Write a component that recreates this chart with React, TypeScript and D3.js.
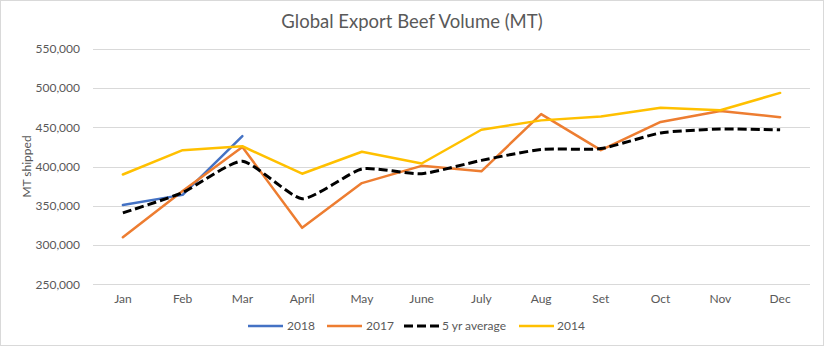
import React from "react";
import * as d3 from "d3";

const months = ["Jan", "Feb", "Mar", "April", "May", "June", "July", "Aug", "Set", "Oct", "Nov", "Dec"];
const yTicks = [250000, 300000, 350000, 400000, 450000, 500000, 550000];
const s2018 = [351000, 364000, 439000];
const s2017 = [310000, 369000, 425000, 322000, 379000, 401000, 394000, 467000, 421000, 457000, 471000, 463000];
const s5yr = [341000, 367000, 407000, 359000, 397000, 391000, 408000, 422000, 423000, 443000, 448000, 447000];
const s2014 = [390000, 421000, 426000, 391000, 419000, 404000, 447000, 459000, 464000, 475000, 472000, 494000];

const seriesNames = ["2018", "2017", "5 yr average", "2014"];
const seriesData = [s2018, s2017, s5yr, s2014];
const colors = ["#4472C4", "#ED7D31", "#000000", "#FFC000"];

const W = 824;
const H = 346;
const FONT = "Lato, 'Open Sans', sans-serif";

export default function App() {
  const x = d3.scaleBand<string>().domain(months).range([93, 810]);
  const y = d3.scaleLinear().domain([250000, 550000]).range([284.3, 49]);
  const fmt = d3.format(",");
  const cx = (m: string) => (x(m) as number) + x.bandwidth() / 2;

  const lineGen = (smooth: boolean) =>
    d3
      .line<number>()
      .x((_, i) => cx(months[i]))
      .y((d) => y(d))
      .curve(smooth ? d3.curveCardinal.tension(0.45) : d3.curveLinear);

  const legendX = [248, 327, 404, 519];
  const legendTextX = [287, 366, 442, 557];

  return (
    <div style={{ position: "absolute", left: 0, top: 0 }}>
      <svg width={W} height={H} style={{ display: "block", background: "#fff" }}>
        <rect x={0.5} y={0.5} width={W - 1} height={H - 1} fill="#fff" stroke="#d9d9d9" />
        <text x={412} y={28} textAnchor="middle" fontFamily={FONT} fontSize={18.5} fill="#595959">
          Global Export Beef Volume (MT)
        </text>
        {yTicks.map((t) => (
          <g key={t}>
            <line x1={93} x2={810} y1={Math.round(y(t)) + 0.5} y2={Math.round(y(t)) + 0.5} stroke="#d9d9d9" strokeWidth={1} />
            <text x={80} y={y(t)} dy="0.35em" textAnchor="end" fontFamily={FONT} fontSize={12} fill="#595959">
              {fmt(t)}
            </text>
          </g>
        ))}
        <text
          transform={`translate(31,${166.5}) rotate(-90)`}
          textAnchor="middle"
          fontFamily={FONT}
          fontSize={12}
          fill="#595959"
        >
          MT shipped
        </text>
        {months.map((m) => (
          <text key={m} x={cx(m)} y={299} dy="0.35em" textAnchor="middle" fontFamily={FONT} fontSize={12} fill="#595959">
            {m}
          </text>
        ))}
        {seriesData.map((s, i) => (
          <path
            key={seriesNames[i]}
            d={lineGen(i === 2)(s) || ""}
            fill="none"
            stroke={colors[i]}
            strokeWidth={i === 2 ? 3 : 2.5}
            strokeDasharray={i === 2 ? "9,4" : undefined}
            strokeLinejoin="round"
            strokeLinecap={i === 2 ? "butt" : "round"}
          />
        ))}
        {seriesNames.map((n, i) => (
          <g key={n}>
            <line
              x1={legendX[i]}
              x2={legendX[i] + 35}
              y1={326}
              y2={326}
              stroke={colors[i]}
              strokeWidth={i === 2 ? 3 : 2.5}
              strokeDasharray={i === 2 ? "9,4" : undefined}
            />
            <text x={legendTextX[i]} y={326} dy="0.35em" fontFamily={FONT} fontSize={12} fill="#595959">
              {n}
            </text>
          </g>
        ))}
      </svg>
    </div>
  );
}
